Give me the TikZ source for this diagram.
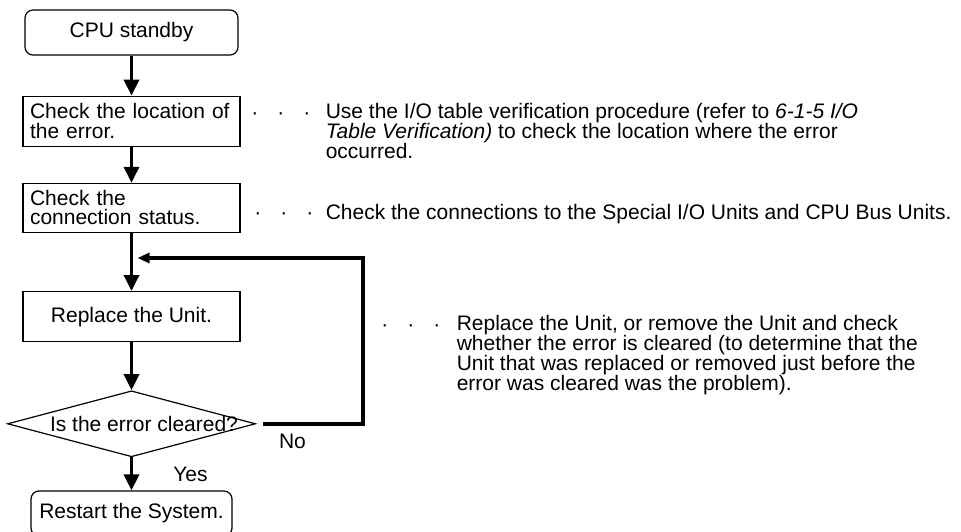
\documentclass[tikz,border=0pt]{standalone}
\usepackage{fontspec}
\setmainfont{Liberation Sans}
\usetikzlibrary{positioning,arrows.meta,shapes.geometric,calc}
\newcommand{\flowfont}{\fontsize{21}{20}\selectfont}
\tikzset{
  box/.style={draw, line width=1.2pt, font=\flowfont, inner sep=0pt,
              minimum width=217pt, minimum height=50pt},
  term/.style={box, rounded corners=8pt, minimum height=45pt},
  textbox/.style={box, align=left, text width=203pt},
  decision/.style={draw, diamond, line width=1.2pt, inner sep=0pt,
                   minimum width=248pt, minimum height=66pt},
  note/.style={font=\flowfont, align=left, inner sep=0pt},
  leader/.style={font=\flowfont, inner sep=0pt},
  lbl/.style={font=\flowfont, inner sep=0pt},
  flow/.style={-{Triangle[length=16pt,width=15pt]}, line width=3.5pt},
  back/.style={-{Triangle[length=12pt,width=10pt]}, line width=3.5pt},
}
\begin{document}
\begin{tikzpicture}[x=1pt, y=1pt]
  \useasboundingbox (0,0) rectangle (961,-532);
  % flow chart
  \node[term, minimum width=213pt] (start) at (131.5,-32.5) {CPU standby};
  \node[textbox, below=40pt of start] (loc) {Check the location of\\the error.};
  \node[textbox, below=36pt of loc, minimum height=49pt] (conn) {Check the\\[-1pt]connection status.};
  \node[box, below=58pt of conn] (rep) {Replace the Unit.};
  \node[decision, below=48pt of rep] (dia) {};
  \node[lbl] (ask) at ([xshift=12.5pt]dia.center) {Is the error cleared?};
  \node[term, minimum width=201pt, below=33pt of dia] (stop) {Restart the System.};
  % loop back point
  \coordinate[below=25pt of conn.south] (join);
  \coordinate[right=231.5pt of join] (turn);
  % notes
  \node[note, right=85pt of loc.north east, anchor=north west, yshift=-7.5pt] (n1)
    {Use the I/O table verification procedure (refer to \textit{6-1-5 I/O}\\
     \textit{Table Verification)} to check the location where the error\\
     occurred.};
  \node[leader, left=15pt of n1.north west, anchor=base east, yshift=-16pt] (d1) {·\hspace{19pt}·\hspace{19pt}·};
  \node[note, right=85pt of conn.north east, anchor=north west, yshift=-21pt] (n2)
    {Check the connections to the Special I/O Units and CPU Bus Units.};
  \node[leader, left=12pt of n2.north west, anchor=base east, yshift=-16pt] (d2) {·\hspace{19pt}·\hspace{19pt}·};
  \node[note, right=216pt of rep.north east, anchor=north west, yshift=-24pt] (n3)
    {Replace the Unit, or remove the Unit and check\\
     whether the error is cleared (to determine that the\\
     Unit that was replaced or removed just before the\\
     error was cleared was the problem).};
  \node[leader, left=16pt of n3.north west, anchor=base east, yshift=-16pt] (d3) {·\hspace{19pt}·\hspace{19pt}·};
  % arrows
  \draw[flow] (start) -- (loc);
  \draw[flow] (loc) -- (conn);
  \draw[flow] (conn) -- (rep);
  \draw[flow] (rep) -- (dia);
  \draw[flow] (dia) -- node[lbl, right=40pt] (yes) {Yes} (stop);
  \draw[back, shorten <=7pt, shorten >=6pt] (dia.east) -| node[lbl, pos=0.17, below=8pt] (no) {No} (turn) -- (join);
\end{tikzpicture}
\end{document}
